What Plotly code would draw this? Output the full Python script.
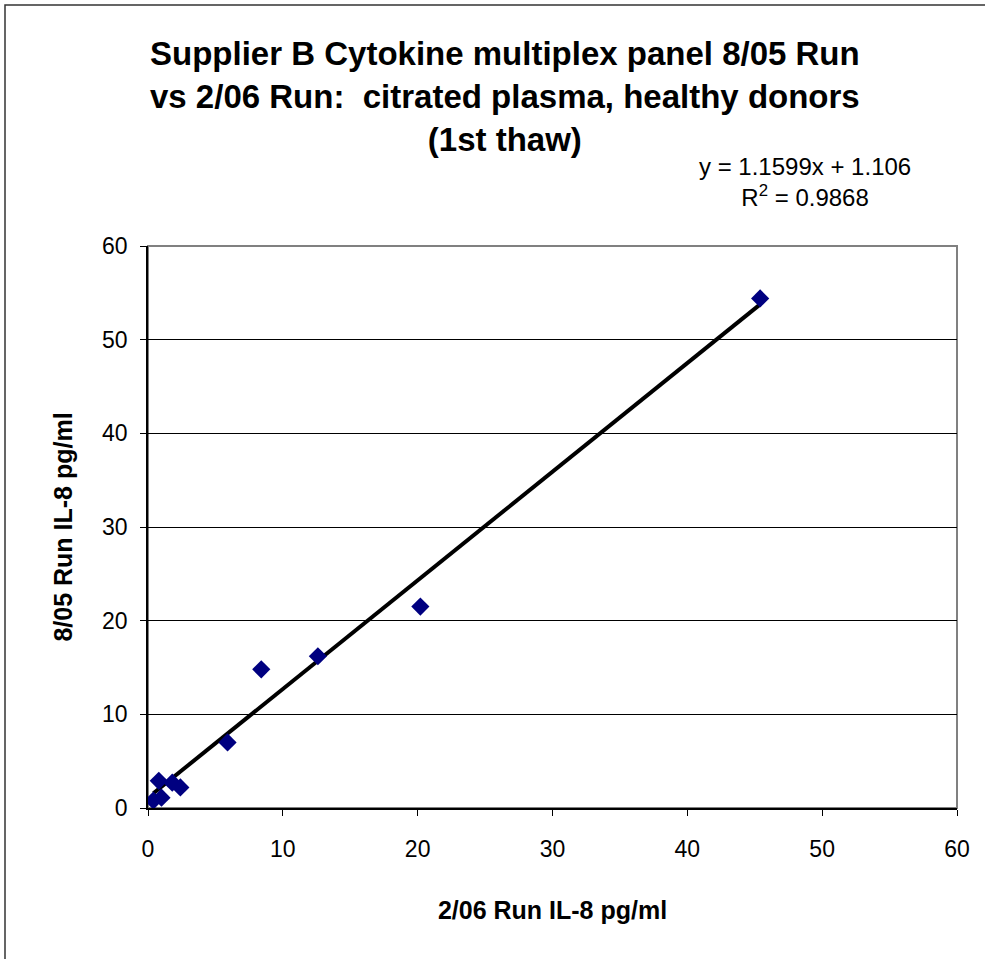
import plotly.graph_objects as go

# Data
x_2_06 = [45.4, 20.2, 12.6, 8.4, 5.9, 0.8, 1.8, 2.4, 0.4, 1.0]
y_8_05 = [54.4, 21.5, 16.2, 14.8, 7.0, 2.9, 2.7, 2.2, 0.8, 1.1]
slope = 1.1599
intercept = 1.106
r_squared = 0.9868
tick_vals = [0, 10, 20, 30, 40, 50, 60]

title_lines = ["Supplier B Cytokine multiplex panel 8/05 Run",
               "vs 2/06 Run:  citrated plasma, healthy donors",
               "(1st thaw)"]
x_title = "2/06 Run IL-8 pg/ml"
y_title = "8/05 Run IL-8 pg/ml"

W, H = 985, 959
L, R, T, B = 148, 28, 246, 151
pw, ph = W - L - R, H - T - B


def px(xp):
    return (xp - L) / pw


def py(yp):
    return (H - B - yp) / ph


fit_x = sorted(x_2_06)
fit_y = [slope * v + intercept for v in fit_x]

fig = go.Figure()
fig.add_trace(go.Scatter(
    x=fit_x, y=fit_y, mode="lines",
    line=dict(color="black", width=4), showlegend=False, hoverinfo="skip"))
fig.add_trace(go.Scatter(
    x=x_2_06, y=y_8_05, mode="markers",
    marker=dict(symbol="diamond", size=14, color="#000080",
                line=dict(width=0)),
    showlegend=False))

font = "Liberation Sans, Arial, sans-serif"

fig.update_layout(
    width=W, height=H,
    margin=dict(l=L, r=R, t=T, b=B, pad=0),
    paper_bgcolor="white", plot_bgcolor="white",
    font=dict(family=font, color="black", size=23),
    annotations=[
        dict(text="<br>".join("<b>%s</b>" % s for s in title_lines),
             x=px(505), y=py(97), xref="paper", yref="paper",
             xanchor="center", yanchor="middle", showarrow=False,
             font=dict(size=33, family=font, color="black"),
             align="center"),
        dict(text=f"y = {slope}x + {intercept}<br>R<sup>2</sup> = {r_squared}",
             x=px(805), y=py(182), xref="paper", yref="paper",
             xanchor="center", yanchor="middle", showarrow=False,
             font=dict(size=24, family=font, color="black"),
             align="center"),
    ],
    shapes=[
        dict(type="rect", xref="paper", yref="paper",
             x0=0, x1=1, y0=0, y1=1,
             line=dict(color="#808080", width=2), layer="below"),
        dict(type="rect", xref="paper", yref="paper",
             x0=px(5), x1=px(1000), y0=py(980), y1=py(5),
             line=dict(color="#333333", width=1.5), layer="below"),
    ],
)

fig.update_xaxes(
    range=[0, 60], tickvals=tick_vals, ticks="outside", ticklen=6,
    tickcolor="black", showline=True, linecolor="black", linewidth=1.5,
    showgrid=False, zeroline=False, tickfont=dict(size=23),
    ticklabelstandoff=14,
    title=dict(text="<b>%s</b>" % x_title, font=dict(size=25),
               standoff=40),
)
fig.update_yaxes(
    range=[0, 60], tickvals=tick_vals, ticks="outside", ticklen=6,
    tickcolor="black", showline=True, linecolor="black", linewidth=1.5,
    showgrid=True, gridcolor="black", gridwidth=1, zeroline=False,
    tickfont=dict(size=23), ticklabelstandoff=8,
    title=dict(text="<b>%s</b>" % y_title, font=dict(size=25),
               standoff=22),
)

fig.write_html("out.html",
               config={"displayModeBar": False},
               post_script="document.body.style.margin='0';"
                           "document.body.style.overflow='hidden';")
